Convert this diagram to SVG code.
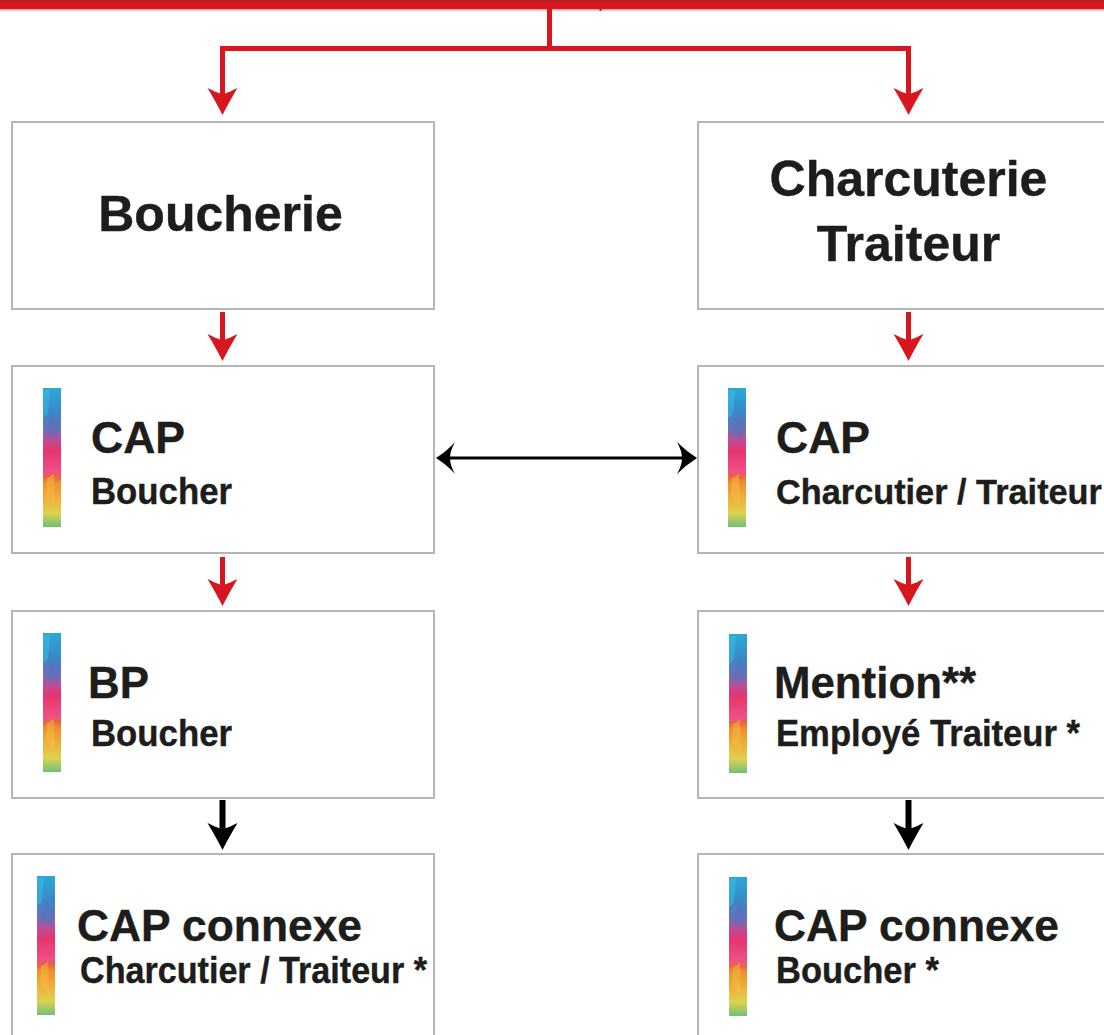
<svg xmlns="http://www.w3.org/2000/svg" width="1104" height="1035" viewBox="0 0 1104 1035">
<style>
.box{fill:#fff;stroke:#b5b5b5;stroke-width:2}
text{font-family:"Liberation Sans",Arial,sans-serif;font-weight:700;fill:#1d1d1b;stroke:#1d1d1b;stroke-width:.4}
.t{font-size:50px}.h{font-size:44.500px}.s{font-size:36px}
.r{stroke:#d7161f;stroke-width:5;fill:none}
.k{stroke:#000;stroke-width:6;fill:none}
.rh{fill:#d7161f}.kh{fill:#000}
</style>
<defs>
<linearGradient id="rb" x1="0" y1="0" x2="0" y2="1">
<stop offset="0" stop-color="#2ba9d6"/><stop offset=".18" stop-color="#3b86c8"/><stop offset=".3" stop-color="#6f6fb8"/><stop offset=".37" stop-color="#b84f98"/><stop offset=".45" stop-color="#e6356f"/><stop offset=".6" stop-color="#ef4f86"/><stop offset=".64" stop-color="#e8653f"/><stop offset=".68" stop-color="#ec8f2c"/><stop offset=".8" stop-color="#f0b03c"/><stop offset=".9" stop-color="#dcd24e"/><stop offset="1" stop-color="#6fc07a"/>
</linearGradient>
<linearGradient id="band" x1="0" y1="0" x2="0" y2="1"><stop offset="0" stop-color="#b01e22"/><stop offset=".45" stop-color="#d7161f"/><stop offset="1" stop-color="#e0151f"/></linearGradient>
<path id="ah" d="M-15-27Q-7-23 -2.500-21.500L2.500-21.500Q7-23 15-27Q6-12 0 0Q-6-12 -15-27Z"/>
<g id="bar">
<rect width="18" height="139" fill="url(#rb)"/>
<path d="M0 2H7L5 26L0 30Z" fill="#3fc0e6" opacity=".45"/>
<path d="M9 26L18 34L14 50L3 46Z" fill="#4b6fbe" opacity=".3"/>
<path d="M4 90L11 86L12 118L3 108Z" fill="#f7c04a" opacity=".45"/>
</g>
</defs>
<rect x="0" y="0" width="1104" height="9" fill="url(#band)"/>
<rect x="0" y="9" width="1104" height="1.500" fill="#f0a0a4"/>
<g id="connectors">
<path class="r" d="M549.500 8V48.500M222.500 100V48.500H908.500V100"/>
<rect x="599.500" y="8" width="2" height="3" class="rh"/>
<use href="#ah" x="222.500" y="115" class="rh"/><use href="#ah" x="908.500" y="115" class="rh"/>
<path class="r" d="M222.500 312V345"/><use href="#ah" x="222.500" y="361" class="rh"/>
<path class="r" d="M908.500 312V345"/><use href="#ah" x="908.500" y="361" class="rh"/>
<path class="r" d="M222.500 557V590"/><use href="#ah" x="222.500" y="606" class="rh"/>
<path class="r" d="M908.500 557V590"/><use href="#ah" x="908.500" y="606" class="rh"/>
<path class="k" d="M222.500 800V833"/><use href="#ah" x="222.500" y="850" class="kh"/>
<path class="k" d="M908.500 800V833"/><use href="#ah" x="908.500" y="850" class="kh"/>
<path d="M448 458H684" stroke="#000" stroke-width="3" fill="none"/>
<path class="kh" d="M436 458Q447 451 455 442Q450 451 450 458Q450 465 455 474Q447 465 436 458Z"/>
<path class="kh" d="M697 458Q686 451 677 442Q682 451 682 458Q682 465 677 474Q686 465 697 458Z"/>
</g>
<g id="boucherie"><rect class="box" x="12" y="122" width="422" height="187"/><text class="t" x="220.500" y="231" text-anchor="middle">Boucherie</text></g>
<g id="charcuterie"><rect class="box" x="698" y="122" width="420" height="187"/><text class="t" x="908.500" y="196" text-anchor="middle">Charcuterie</text><text class="t" x="908.500" y="261" text-anchor="middle">Traiteur</text></g>
<g id="cap-boucher"><rect class="box" x="12" y="366" width="422" height="187"/><use href="#bar" x="43" y="388"/><text class="h" x="91" y="453">CAP</text><text class="s" x="91" y="504" textLength="141" lengthAdjust="spacingAndGlyphs">Boucher</text></g>
<g id="cap-charcutier"><rect class="box" x="698" y="366" width="420" height="187"/><use href="#bar" x="728" y="388"/><text class="h" x="776" y="453">CAP</text><text x="776" y="503.500" font-size="34.300">Charcutier / Traiteur</text></g>
<g id="bp-boucher"><rect class="box" x="12" y="611" width="422" height="187"/><use href="#bar" x="43" y="633"/><text class="h" x="88" y="698" textLength="61" lengthAdjust="spacingAndGlyphs">BP</text><text class="s" x="91" y="746" textLength="141" lengthAdjust="spacingAndGlyphs">Boucher</text></g>
<g id="mention"><rect class="box" x="698" y="611" width="420" height="187"/><use href="#bar" x="729" y="634"/><text class="h" x="774" y="698" textLength="202" lengthAdjust="spacingAndGlyphs">Mention**</text><text class="s" x="776" y="746" textLength="304" lengthAdjust="spacingAndGlyphs">Employé Traiteur *</text></g>
<g id="connexe-charcutier"><rect class="box" x="12" y="854" width="422" height="187"/><use href="#bar" x="37" y="876"/><text class="h" x="77" y="941" textLength="285" lengthAdjust="spacingAndGlyphs">CAP connexe</text><text class="s" x="80" y="983" textLength="347" lengthAdjust="spacingAndGlyphs">Charcutier / Traiteur *</text></g>
<g id="connexe-boucher"><rect class="box" x="698" y="854" width="420" height="187"/><use href="#bar" x="729" y="877"/><text class="h" x="774" y="941" textLength="285" lengthAdjust="spacingAndGlyphs">CAP connexe</text><text class="s" x="776" y="983" textLength="163" lengthAdjust="spacingAndGlyphs">Boucher *</text></g>
</svg>
